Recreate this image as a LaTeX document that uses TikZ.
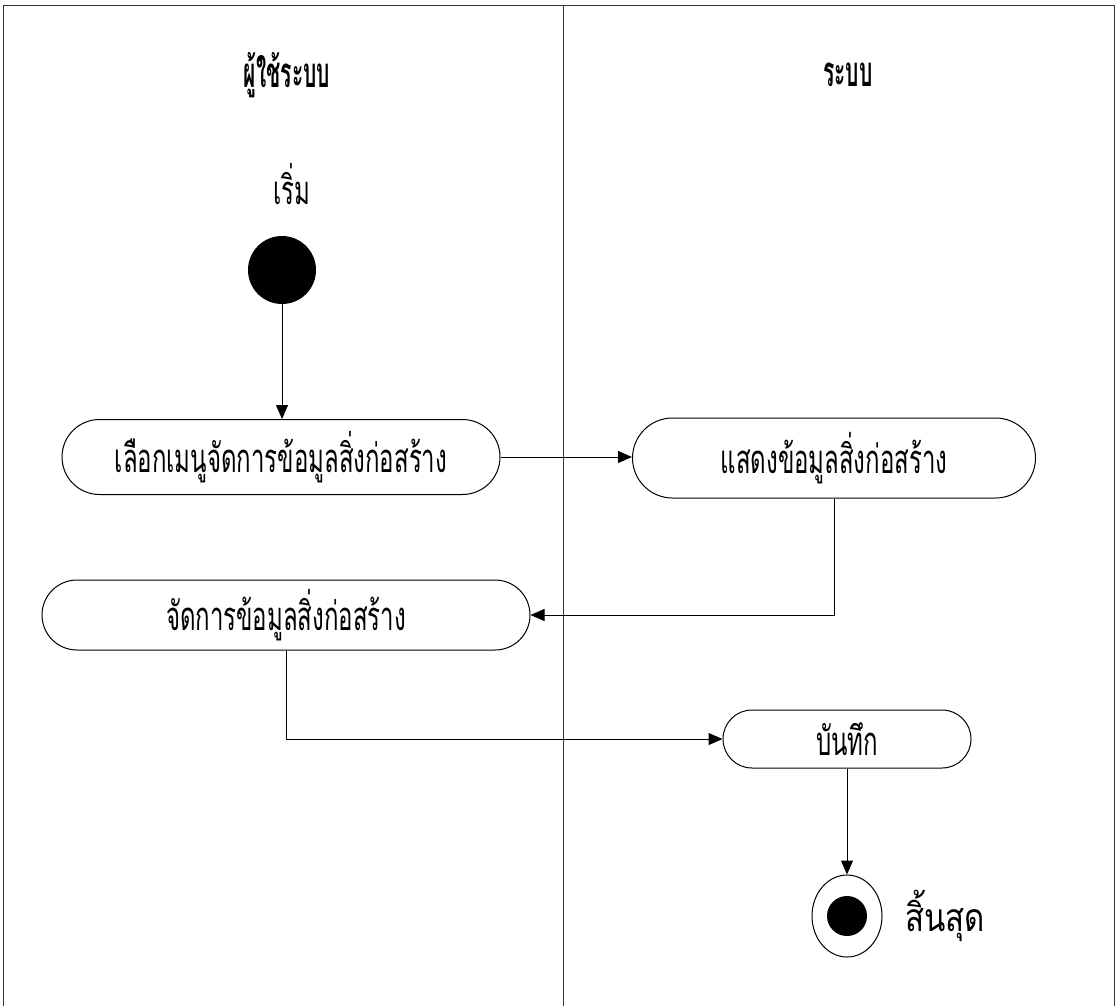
\documentclass[tikz,border=0pt]{standalone}
\usepackage{fontspec}
\newfontfamily\thai[Script=Thai,FakeStretch=0.6]{Loma}
\newfontfamily\thailbl[Script=Thai,FakeStretch=0.8]{Loma}
\newfontfamily\thaihdr[Script=Thai,FakeStretch=0.5]{Loma}
\usetikzlibrary{arrows.meta,shapes.misc,shapes.geometric}
\begin{document}
\begin{tikzpicture}[x=0.5pt,y=-0.5pt,
  lane/.style={line width=0.5pt,draw=black!80},
  act/.style={rounded rectangle,draw,line width=0.5pt,inner sep=0pt,font=\thai\fontsize{20}{22}\selectfont},
  lbl/.style={inner sep=0pt,font=\thai\fontsize{20}{22}\selectfont},
  lblw/.style={inner sep=0pt,font=\thailbl\fontsize{19.5}{22}\selectfont},
  hdr/.style={inner sep=0pt,font=\thaihdr\bfseries\fontsize{21}{24}\selectfont},
  flow/.style={line width=0.5pt,-{Triangle[length=7pt,width=6pt]}}]
\useasboundingbox (0,0) rectangle (1117,1006);
% swimlane frame
\draw[lane] (3,1006) -- (3,6) -- (1114,6) -- (1114,1006);
\draw[lane] (563,6) -- (563,1006);
% headers
\node[hdr] (h1) at (287,75) {ผู้ใช้ระบบ};
\node[hdr] (h2) at (848,75) {ระบบ};
% start
\node[lbl] (startlbl) at (292,184) {เริ่ม};
\node[circle,fill=black,minimum size=34pt,inner sep=0pt] (start) at (282,270) {};
% activities
\node[act,minimum width=219pt,minimum height=37.5pt] (a1) at (281,457) {เลือกเมนูจัดการข้อมูลสิ่งก่อสร้าง};
\node[act,minimum width=201.5pt,minimum height=40pt] (a2) at (834,458) {แสดงข้อมูลสิ่งก่อสร้าง};
\node[act,minimum width=244pt,minimum height=35pt] (a3) at (286,615) {จัดการข้อมูลสิ่งก่อสร้าง};
\node[act,minimum width=124pt,minimum height=29pt] (a4) at (847,739) {บันทึก};
% end
\node[ellipse,draw,line width=0.5pt,minimum width=35pt,minimum height=41pt,inner sep=0pt] (end) at (847,916) {};
\node[circle,fill=black,minimum size=20pt,inner sep=0pt] (endin) at (end.center) {};
\node[lblw] (endlbl) at (945,916) {สิ้นสุด};
% connectors
\draw[flow] (start.south) -- (start.south |- a1.north);
\draw[flow] (a1.east) -- (a1.east -| a2.west);
\draw[flow] (a2.south) |- (a3.east);
\draw[flow] (a3.south) |- (a4.west);
\draw[flow] (a4.south) -- (end.north);
\end{tikzpicture}
\end{document}
